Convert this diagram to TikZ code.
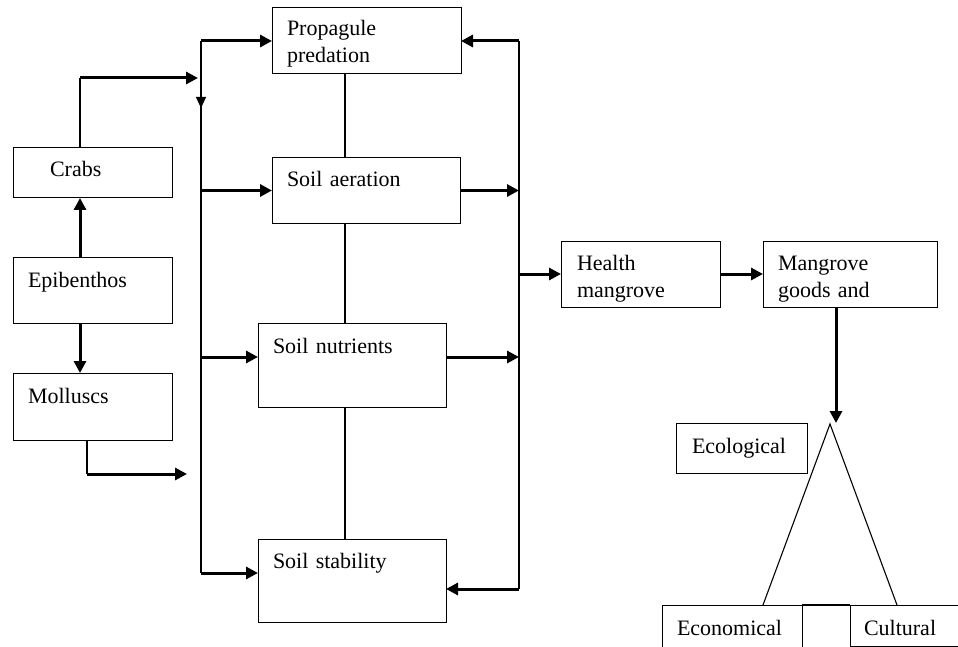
\documentclass[tikz,border=0pt]{standalone}
\usepackage{fontspec}
\setmainfont{Liberation Serif}
\usetikzlibrary{arrows.meta}
\hyphenpenalty=10000

\tikzset{
blk/.style={draw, line width=1pt, anchor=north west, outer sep=0pt, inner ysep=0pt, inner xsep=15pt, align=left, font=\fontsize{22}{27}\selectfont},
arr/.style={-{Triangle[length=12pt,width=12pt]}, line width=3pt},
ln/.style={line width=1.1pt}
}

\begin{document}
\begin{tikzpicture}[x=1pt,y=-1pt]
\clip (0,0) rectangle (958,647);

% left column
\node[blk, inner xsep=37pt, text width=85pt, text height=29pt, text depth=21pt] (crabs) at (13,148) {Crabs};
\node[blk, text width=129pt, text height=30pt, text depth=36pt] (epi) at (13,257) {Epibenthos};
\node[blk, text width=129pt, text height=30pt, text depth=37pt] (moll) at (13,373) {Molluscs};

% middle column
\node[blk, text width=159pt, text height=28pt, text depth=38pt] (prop) at (272,8) {Propagule\\predation};
\node[blk, text width=158pt, text height=29pt, text depth=36pt] (aer) at (272,158) {Soil aeration};
\node[blk, text width=158pt, text height=30pt, text depth=54pt] (nut) at (258,323) {Soil nutrients};
\node[blk, text width=158pt, text height=29pt, text depth=54pt] (stab) at (258,539) {Soil stability};

% right part
\node[blk, inner xsep=16pt, text width=127pt, text height=29pt, text depth=37pt] (health) at (561,241) {Health\\mangrove};
\node[blk, text width=144pt, text height=29pt, text depth=37pt] (goods) at (763,241) {Mangrove\\goods and};
\node[blk, inner xsep=16pt, text width=99pt, text height=30pt, text depth=20pt] (eco) at (676,423) {Ecological};
\node[blk, text width=110pt, text height=30pt, text depth=30pt] (econ) at (662,605) {Economical};
\node[blk, inner xsep=14pt, text width=97pt, text height=30pt, text depth=11pt] (cult) at (850,605) {Cultural};

\coordinate (ca) at (80,78);
\coordinate (cb) at (198,78);
\coordinate (ma) at (87,474);
\coordinate (mb) at (187,474);
\coordinate (lt) at (201,41);
\coordinate (lb) at (201,573);
\coordinate (ld) at (201,108);
\coordinate (rt) at (519,41);
\coordinate (rb) at (519,589);
\coordinate (mid) at (345,0);
\coordinate (nutrow) at (0,357);
\coordinate (apex) at (830,424);
\coordinate (tip) at (836,423);
\coordinate (tl) at (763,605);
\coordinate (tr) at (897,605);

\draw[ln] (crabs.north -| ca) -- (ca);
\draw[arr] (ca) -- (cb);
\draw[arr] (epi.north -| ca) -- (crabs.south -| ca);
\draw[arr] (epi.south -| ca) -- (moll.north -| ca);
\draw[ln] (moll.south -| ma) -- (ma);
\draw[arr] (ma) -- (mb);

\draw[ln] (lt) -- (lb);
\draw[ln, -{Triangle[length=11pt,width=10pt]}] (lt |- ca) -- (ld);
\draw[arr] (lt) -- (lt -| prop.west);
\draw[arr] (aer.west -| lt) -- (aer.west);
\draw[arr] (nutrow -| lt) -- (nutrow -| nut.west);
\draw[arr] (lb) -- (lb -| stab.west);

\draw[ln] (prop.south -| mid) -- (aer.north -| mid);
\draw[ln] (aer.south -| mid) -- (nut.north -| mid);
\draw[ln] (nut.south -| mid) -- (stab.north -| mid);

\draw[ln] (rt) -- (rb);
\draw[arr] (rt) -- (rt -| prop.east);
\draw[arr] (aer.east) -- (aer.east -| rt);
\draw[arr] (nutrow -| nut.east) -- (nutrow -| rt);
\draw[arr] (rb) -- (rb -| stab.east);

\draw[arr] (health.west -| rt) -- (health.west);
\draw[arr] (health.east) -- (goods.west);
\draw[arr] (goods.south -| tip) -- (tip);

\draw[ln] (tl) -- (apex) -- (tr);
\draw[ln] (econ.north east) -- (cult.north west);
\end{tikzpicture}
\end{document}
